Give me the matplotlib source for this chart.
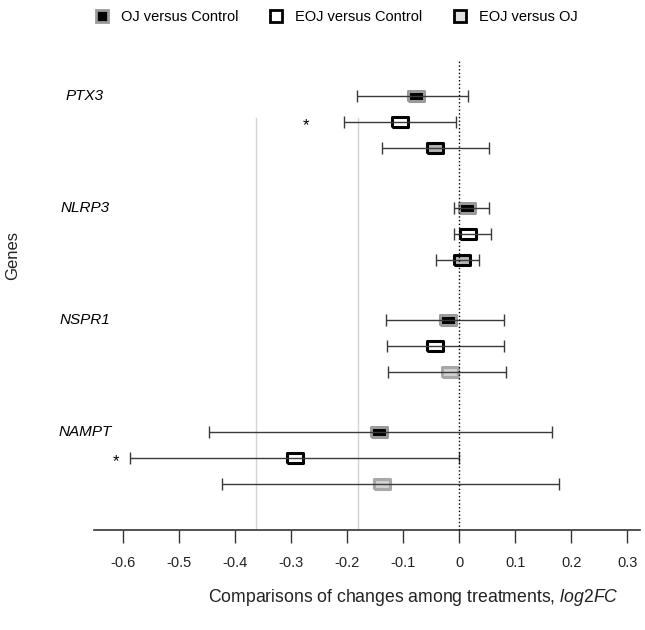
import matplotlib
matplotlib.use("Agg")
import matplotlib.pyplot as plt
from matplotlib.lines import Line2D

plt.rcParams['font.family'] = ['Liberation Sans', 'DejaVu Sans']
plt.rcParams['mathtext.fontset'] = 'custom'
plt.rcParams['mathtext.rm'] = 'Liberation Sans'
plt.rcParams['mathtext.it'] = 'Liberation Sans:italic'

# ------------------ DATA -----------------------------------------
genes = ['PTX3', 'NLRP3', 'NSPR1', 'NAMPT']
series = ['OJ versus Control', 'EOJ versus Control', 'EOJ versus OJ']

oj_mean = [-0.077, 0.014, -0.020, -0.143]
oj_lo = [-0.182, -0.009, -0.130, -0.446]
oj_hi = [0.016, 0.054, 0.080, 0.166]

eoj_mean = [-0.105, 0.016, -0.043, -0.293]
eoj_lo = [-0.205, -0.009, -0.129, -0.588]
eoj_hi = [-0.005, 0.057, 0.080, 0.0]

eo_mean = [-0.043, 0.005, -0.016, -0.137]
eo_lo = [-0.138, -0.041, -0.127, -0.423]
eo_hi = [0.054, 0.036, 0.084, 0.179]

# significance stars (gene index, series index, x position)
stars = [(0, 1, -0.274), (3, 1, -0.6125)]

# reference lines
ref_lines = [-0.3625, -0.18]
xticks = [-0.6, -0.5, -0.4, -0.3, -0.2, -0.1, 0, 0.1, 0.2, 0.3]
xticklabels = ['-0.6', '-0.5', '-0.4', '-0.3', '-0.2', '-0.1', '0', '0.1', '0.2', '0.3']
# -----------------------------------------------------------------

means = [oj_mean, eoj_mean, eo_mean]
los = [oj_lo, eoj_lo, eo_lo]
his = [oj_hi, eoj_hi, eo_hi]

offsets = [-0.232, 0.0, 0.232]
faces = ['black', 'white', '#b4b4b4']
edges = ['#9a9a9a', 'black', 'black']
# EOJ vs OJ drawn faded for the last two genes
faded = [False, False, True, True]

rect = [(-1.45, -1), (1.45, -1), (1.45, 1), (-1.45, 1), (-1.45, -1)]

fig = plt.figure(figsize=(6.45, 6.3), dpi=100)
ax = fig.add_axes([94/645, 1-530/630, 546/645, 470/630])

for s in range(3):
    for g in range(len(genes)):
        y = g + offsets[s]
        m = means[s][g]
        fc, ec = faces[s], edges[s]
        if s == 2 and faded[g]:
            fc, ec = '#d2d2d2', '#a8a8a8'
        ax.plot(m, y, marker=rect, markersize=11, markerfacecolor=fc,
                markeredgecolor=ec, markeredgewidth=2.2, linestyle='none', zorder=2)
        ax.errorbar(m, y, xerr=[[m - los[s][g]], [his[s][g] - m]], fmt='none',
                    ecolor='#3a3a3a', elinewidth=1, capsize=4.3, capthick=1, zorder=3)

for g, s, x in stars:
    ax.text(x, g + offsets[s] + 0.03, '*', fontsize=12, ha='center', va='center')

for g in range(len(genes)):
    ax.text(-0.668, g - 0.23, genes[g], fontsize=11, style='italic',
            ha='center', va='center', clip_on=False)

for x in ref_lines:
    ax.plot([x, x], [-0.036, 3.643], color='#d4d4d4', lw=1, zorder=1)
ax.axvline(0, color='black', linestyle=':', lw=1, zorder=4)

ax.set_xlim(-0.652, 0.323)
ax.set_ylim(3.643, -0.554)

for sp in ['top', 'right', 'left']:
    ax.spines[sp].set_visible(False)
ax.spines['bottom'].set_color('#333333')
ax.spines['bottom'].set_linewidth(1.2)
ax.set_yticks([])
ax.set_xticks(xticks)
ax.set_xticklabels(xticklabels, fontsize=10.5, color='#222222')
ax.tick_params(axis='x', direction='out', length=9.5, width=1, color='#333333', pad=9)

ax.set_xlabel('Comparisons of changes among treatments, $\\mathit{log2FC}$', fontsize=12.7,
              color='#222222', va='center')
ax.xaxis.set_label_coords((413-94)/546, (530-597)/470)
fig.text(13/645, 1-255/630, 'Genes', rotation=90, fontsize=12, ha='center', va='center',
         color='#222222')

handles = [
    Line2D([], [], marker='s', markersize=9, markerfacecolor='black', markeredgecolor='#9a9a9a',
           markeredgewidth=2, linestyle='none'),
    Line2D([], [], marker='s', markersize=9, markerfacecolor='white', markeredgecolor='black',
           markeredgewidth=2, linestyle='none'),
    Line2D([], [], marker='s', markersize=9, markerfacecolor='#e0e0e0', markeredgecolor='black',
           markeredgewidth=2, linestyle='none'),
]
fig.legend(handles, series, loc='center', bbox_to_anchor=(336/645, 1-17/630), ncol=3,
           frameon=False, fontsize=10.5, handletextpad=0.8, columnspacing=2.1,
           handlelength=1.0)

fig.savefig('out.png', dpi=100)
